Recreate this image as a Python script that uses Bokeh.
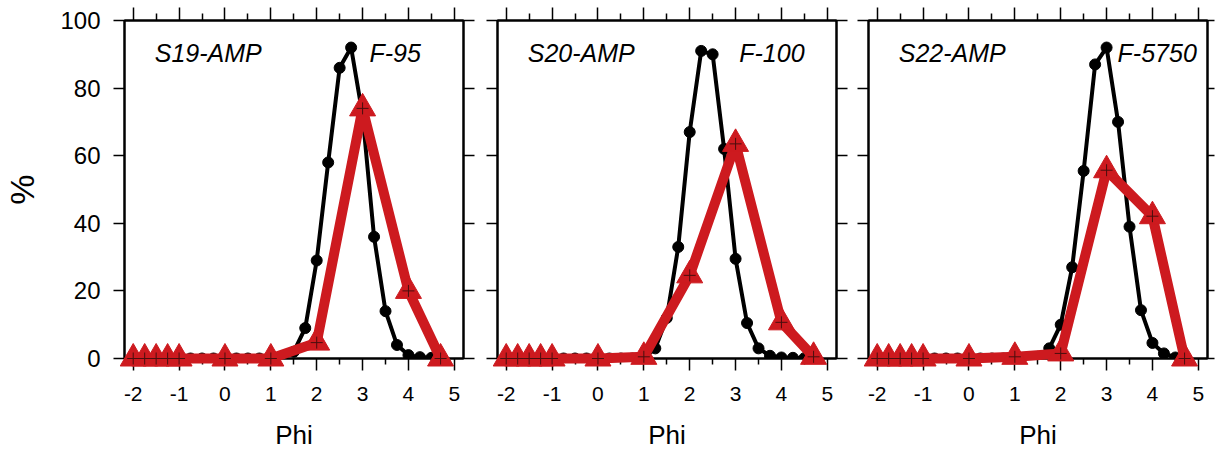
from bokeh.plotting import figure
from bokeh.layouts import row
from bokeh.models import LinearAxis, FixedTicker, Label, Range1d, CustomJSTickFormatter
from bokeh.embed import file_html
from bokeh.resources import INLINE

# ---- data -------------------------------------------------------------
phi_black = [-2.0, -1.75, -1.5, -1.25, -1.0, -0.75, -0.5, -0.25, 0.0, 0.25, 0.5,
             0.75, 1.0, 1.25, 1.5, 1.75, 2.0, 2.25, 2.5, 2.75, 3.0, 3.25, 3.5,
             3.75, 4.0, 4.25, 4.5]
s19_amp = [0, 0, 0, 0, 0, 0, 0, 0, 0, 0, 0, 0, 0, 0.3, 2, 9, 29, 58, 86, 92,
           72, 36, 14, 4, 1, 0.4, 0.2]
s20_amp = [0, 0, 0, 0, 0, 0, 0, 0, 0, 0, 0, 0, 0.2, 3, 12, 33, 67, 91, 90, 62,
           29.5, 10.5, 3, 0.8, 0.3, 0.2, 0.1]
s22_amp = [0, 0, 0, 0, 0, 0, 0, 0, 0, 0, 0, 0, 0, 0.2, 0.5, 3, 10, 27, 55.5,
           87, 92, 70, 39, 14.3, 4.6, 1.5, 0.3]

phi_red = [-2.0, -1.75, -1.5, -1.25, -1.0, 0.0, 1.0, 2.0, 3.0, 4.0, 4.7]
f95 = [0, 0, 0, 0, 0, 0, 0, 4.7, 74, 20, 0]
f100 = [0, 0, 0, 0, 0, 0, 0.5, 24.6, 63.5, 10.7, 0.5]
f5750 = [0, 0, 0, 0, 0, 0, 0.5, 1.5, 55.7, 42.1, 0]

sample_names = ["S19-AMP", "S20-AMP", "S22-AMP"]
flood_names = ["F-95", "F-100", "F-5750"]
flood_label_x = [3.15, 3.08, 3.24]

x_ticks = [-2, -1, 0, 1, 2, 3, 4, 5]
x_tick_labels = ["-2", "-1", "0", "1", "2", "3", "4", "5"]
x_minor = [-1.5, -0.5, 0.5, 1.5, 2.5, 3.5, 4.5]
y_ticks = [0, 20, 40, 60, 80, 100]

FONT = "Liberation Sans"
RED = "#CD1A1F"


def blank():
    return CustomJSTickFormatter(code="return ''")


def make_panel(idx, amp, flood, width, left, right, right_tick):
    p = figure(width=width, height=452,
               x_range=Range1d(-2.19, 5.2), y_range=Range1d(0, 100),
               output_backend="svg", toolbar_location=None,
               min_border_left=left, min_border_right=right,
               min_border_top=20, min_border_bottom=94)
    p.xgrid.grid_line_color = None
    p.ygrid.grid_line_color = None
    p.outline_line_color = "black"
    p.outline_line_width = 2
    p.background_fill_color = "white"
    p.border_fill_color = "white"

    # bottom x axis
    xa = p.xaxis[0]
    xa.ticker = FixedTicker(ticks=x_ticks, minor_ticks=x_minor)
    xa.major_label_overrides = {t: s for t, s in zip(x_ticks, x_tick_labels)}
    xa.axis_line_width = 2
    xa.major_tick_in = 0
    xa.major_tick_out = 12
    xa.minor_tick_in = 0
    xa.minor_tick_out = 6
    xa.major_tick_line_width = 1.5
    xa.minor_tick_line_width = 1.5
    xa.major_label_text_font = FONT
    xa.major_label_text_font_size = "21px"
    xa.major_label_text_color = "black"
    xa.major_label_standoff = 16
    xa.axis_label = "Phi"
    xa.axis_label_text_font = FONT
    xa.axis_label_text_font_style = "normal"
    xa.axis_label_text_font_size = "26px"
    xa.axis_label_text_color = "black"
    xa.axis_label_standoff = 16

    # left y axis
    ya = p.yaxis[0]
    ya.ticker = FixedTicker(ticks=y_ticks, minor_ticks=[])
    ya.axis_line_width = 2
    ya.major_tick_in = 0
    ya.major_tick_out = 11
    ya.major_tick_line_width = 1.5
    ya.minor_tick_line_color = None
    if idx == 0:
        ya.major_label_text_font = FONT
        ya.major_label_text_font_size = "24px"
        ya.major_label_text_color = "black"
        ya.major_label_standoff = 13
        ya.axis_label = "%"
        ya.axis_label_text_font = FONT
        ya.axis_label_text_font_style = "normal"
        ya.axis_label_text_font_size = "34px"
        ya.axis_label_text_color = "black"
        ya.axis_label_standoff = 16
    else:
        ya.formatter = blank()
        ya.major_label_standoff = 0

    # top axis (ticks only)
    ta = LinearAxis(ticker=FixedTicker(ticks=x_ticks, minor_ticks=x_minor),
                    formatter=blank(),
                    axis_line_width=2, major_tick_in=0, major_tick_out=13,
                    minor_tick_in=0, minor_tick_out=7,
                    major_tick_line_width=1.5, minor_tick_line_width=1.5,
                    major_label_standoff=0)
    p.add_layout(ta, "above")

    # right axis (ticks only)
    ra = LinearAxis(ticker=FixedTicker(ticks=y_ticks, minor_ticks=[]),
                    formatter=blank(),
                    axis_line_width=2, major_tick_in=0, major_tick_out=right_tick,
                    minor_tick_line_color=None, major_tick_line_width=1.5,
                    major_label_standoff=0)
    p.add_layout(ra, "right")

    # black (sample) series
    p.line(phi_black, amp, line_color="black", line_width=4)
    p.scatter(phi_black, amp, size=11, fill_color="black", line_color="black")

    # red (flood) series, drawn above the frame
    p.line(phi_red, flood, line_color=RED, line_width=10, level="annotation")
    p.scatter(phi_red, flood, marker="triangle", size=26, fill_color=RED,
              line_color=RED, level="annotation")
    p.scatter(phi_red, flood, marker="cross", size=12, line_color="#4a0e0e",
              line_width=1, level="annotation")

    p.add_layout(Label(x=-1.53, y=90.3, text=sample_names[idx],
                       text_font=FONT, text_font_style="italic",
                       text_font_size="25px", text_color="black",
                       text_baseline="alphabetic"))
    p.add_layout(Label(x=flood_label_x[idx], y=90.3, text=flood_names[idx],
                       text_font=FONT, text_font_style="italic",
                       text_font_size="25px", text_color="black",
                       text_baseline="alphabetic"))
    return p


p1 = make_panel(0, s19_amp, f95, 480, 124, 17, 11)
p2 = make_panel(1, s20_amp, f100, 371, 17, 15, 11)
p3 = make_panel(2, s22_amp, f5750, 364, 17, 8, 7)

layout = row(p1, p2, p3, spacing=0)
open("out.html", "w").write(file_html(layout, INLINE))
